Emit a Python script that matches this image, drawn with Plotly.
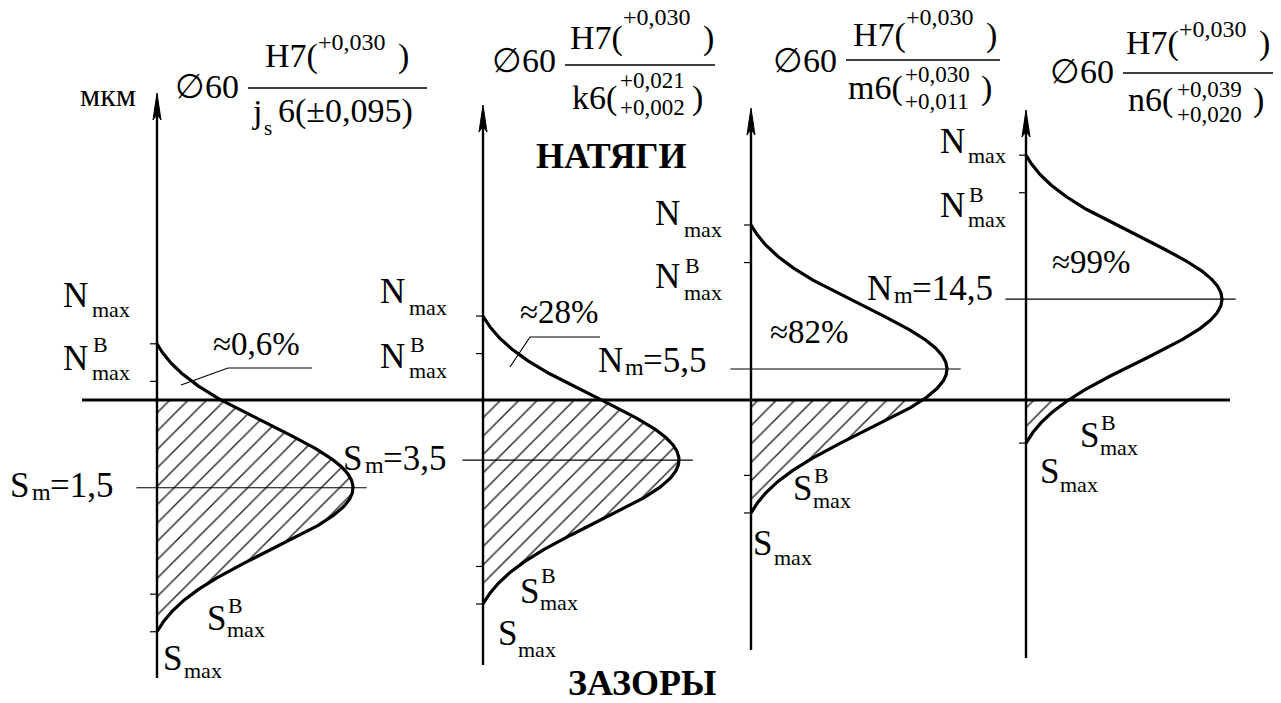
import numpy as np
import plotly.graph_objects as go

W, H = 1281, 703
SERIF = "Liberation Serif, Times New Roman, DejaVu Serif, serif"

# ---------------- data ----------------
hole_field = "H7"
hole_dev = "+0,030"
shaft_letter = ["j", "k", "m", "n"]
shaft_dev_upper = ["±0,095", "+0,021", "+0,030", "+0,039"]
shaft_dev_lower = ["", "+0,002", "+0,011", "+0,020"]
mean_value = [-1.5, -3.5, 5.5, 14.5]       # µm, >0 натяг, <0 зазор
sigma_value = [1.07, 3.65, 11.1, 9.0]      # µm, spread of each sketched distribution
interference_pct = ["0,6", "28", "82", "99"]

CURVE_LIMIT = 2.3   # distribution drawn over mean ± 2.3σ (N_max … S_max)
PROB_LIMIT = 1.7    # probable limits N^B_max, S^B_max

# ---------------- drawing geometry (pixels) ----------------
ZERO_PX = 400          # height of the zero (N=S=0) line from the top
SIGMA_PX = 62.6        # drawn size of one σ
PEAK_PX = 196          # drawn height of the density peak
AXIS_PX = [157, 483, 751, 1026]
AXIS_TOP = [93, 105, 108, 110]
AXIS_BOT = [678, 665, 650, 658]

fig = go.Figure()
gL = np.exp(-CURVE_LIMIT ** 2 / 2)


def density(t):
    return (np.exp(-t ** 2 / 2) - gL) / (1 - gL)


for i, (m, s) in enumerate(zip(mean_value, sigma_value)):
    xa = "x" if i == 0 else f"x{i+1}"
    ya = "y" if i == 0 else f"y{i+1}"
    t = np.linspace(-CURVE_LIMIT, CURVE_LIMIT, 400)
    yv = m + t * s
    xv = density(t)

    # clearance part (below the zero line) is hatched
    t0 = -m / s
    tt = np.sort(np.concatenate([t[t < t0], [t0]]))[::-1]
    hx = np.concatenate([[0.0], density(tt), [0.0]])
    hy = np.concatenate([[0.0], m + tt * s, [m - CURVE_LIMIT * s]])
    fig.add_trace(go.Scatter(
        x=hx, y=hy, xaxis=xa, yaxis=ya, mode="none", fill="toself",
        fillcolor="rgba(255,255,255,0)",
        fillpattern=dict(shape="/", size=13, solidity=0.11, fgcolor="#1a1a1a",
                         fgopacity=0.95),
        hoverinfo="skip", showlegend=False))

    # mean line
    fig.add_trace(go.Scatter(
        x=[-0.105, 1.07], y=[m, m], xaxis=xa, yaxis=ya, mode="lines",
        line=dict(color="black", width=1.2), hoverinfo="skip", showlegend=False))

    # distribution curve
    fig.add_trace(go.Scatter(
        x=xv, y=yv, xaxis=xa, yaxis=ya, mode="lines",
        line=dict(color="black", width=3.2), hoverinfo="skip", showlegend=False))

    # ticks at N_max, N^B_max, S^B_max, S_max
    tk = 7 / PEAK_PX
    for v in [m + CURVE_LIMIT * s, m + PROB_LIMIT * s,
              m - PROB_LIMIT * s, m - CURVE_LIMIT * s]:
        if abs(v) / s * SIGMA_PX < 10:
            continue
        fig.add_trace(go.Scatter(
            x=[-tk, 0], y=[v, v], xaxis=xa, yaxis=ya, mode="lines",
            line=dict(color="black", width=1.2), hoverinfo="skip",
            showlegend=False))

# axes: one coordinate system per diagram
layout_axes = {}
for i, s in enumerate(sigma_value):
    sfx = "" if i == 0 else str(i + 1)
    x0 = AXIS_PX[i]
    upx = s / SIGMA_PX
    xa = dict(range=[-x0 / PEAK_PX, (W - x0) / PEAK_PX], domain=[0, 1],
              visible=False, fixedrange=True)
    ya = dict(range=[-(H - ZERO_PX) * upx, ZERO_PX * upx], domain=[0, 1],
              visible=False, fixedrange=True)
    if i > 0:
        xa["overlaying"] = "x"
        ya["overlaying"] = "y"
        xa["anchor"] = "y" + sfx
        ya["anchor"] = "x" + sfx
    layout_axes["xaxis" + sfx] = xa
    layout_axes["yaxis" + sfx] = ya


def P(x, y):
    return x / W, 1 - y / H


shapes = []
# zero line
shapes.append(dict(type="line", xref="paper", yref="y", x0=82 / W, x1=1230 / W,
                   y0=0, y1=0, line=dict(color="black", width=3)))
# vertical axes with arrows
for x, ytop, ybot in zip(AXIS_PX, AXIS_TOP, AXIS_BOT):
    a, b = P(x, ybot)
    c, d = P(x, ytop + 12)
    shapes.append(dict(type="line", xref="paper", yref="paper", x0=a, y0=b,
                       x1=c, y1=d, line=dict(color="black", width=2.4)))
    pts = [(x, ytop), (x - 4, ytop + 27), (x, ytop + 21), (x + 4, ytop + 27)]
    path = "M " + " L ".join(f"{px / W:.5f},{1 - py / H:.5f}" for px, py in pts) + " Z"
    shapes.append(dict(type="path", xref="paper", yref="paper", path=path,
                       fillcolor="black", line=dict(color="black", width=1)))

# fraction bars
for x0, x1, y in [(248, 427, 88), (565, 715, 65), (846, 1000, 60), (1123, 1273, 73)]:
    a, b = P(x0, y)
    c, d = P(x1, y)
    shapes.append(dict(type="line", xref="paper", yref="paper", x0=a, y0=b,
                       x1=c, y1=d, line=dict(color="black", width=1.6)))

# leaders for the percentage labels
for pts in [[(181, 385), (228, 368), (312, 368)], [(510, 367), (530, 337), (600, 337)]]:
    path = "M " + " L ".join(f"{px / W:.5f},{1 - py / H:.5f}" for px, py in pts)
    shapes.append(dict(type="path", xref="paper", yref="paper", path=path,
                       line=dict(color="black", width=1.2)))

ann = []


def text(x, base, s, size, bold=False, anchor="left"):
    yc = base - 0.34 * size
    if bold:
        s = f"<b>{s}</b>"
    ann.append(dict(x=x / W, y=1 - yc / H, xref="paper", yref="paper", text=s,
                    showarrow=False, xanchor=anchor, yanchor="middle",
                    borderpad=0, borderwidth=0,
                    font=dict(family=SERIF, size=size, color="black")))


BIG, SMALL, TITLE, SUP, STACK = 35, 22, 34, 24, 23

# unit
text(80, 106, "мкм", 32)

# titles  Ø60 H7 / shaft
dia_pos = [(175, 98), (492, 72), (773, 72), (1050, 83)]
num_pos = [(265, 68, 50), (570, 50, 25), (853, 47, 25), (1126, 55, 37)]
for i in range(4):
    text(dia_pos[i][0], dia_pos[i][1], "∅60", TITLE)
    hx, hb, sb = num_pos[i]
    text(hx, hb, hole_field + "(", TITLE)
    text(hx + 53, sb, hole_dev, SUP)
    text(hx + 133, hb, ")", TITLE)

# denominators
text(252, 123, shaft_letter[0], TITLE)
text(264, 135, "s", 21)
text(278, 123, "6(" + shaft_dev_upper[0] + ")", TITLE)
den_pos = [None, (572, 110, 620, 88, 115, 692), (848, 100, 905, 82, 109, 981),
           (1128, 112, 1177, 97, 122, 1253)]
for i in range(1, 4):
    lx, lb, sx, ub, db, rx = den_pos[i]
    text(lx, lb, shaft_letter[i] + "6(", TITLE)
    text(sx, ub, shaft_dev_upper[i], STACK)
    text(sx, db, shaft_dev_lower[i], STACK)
    text(rx, lb, ")", TITLE)

# region names
text(611, 168, "НАТЯГИ", 36, bold=True, anchor="center")
ann.append(dict(x=642 / W, y=0, xref="paper", yref="paper", text="<b>ЗАЗОРЫ</b>",
                showarrow=False, xanchor="center", yanchor="bottom",
                borderpad=0, borderwidth=0,
                font=dict(family=SERIF, size=36, color="black")))


# limit labels
def lab(x, base, letter, sub_base, sup_base=None, sub_x=None):
    text(x, base, letter, BIG)
    sx = sub_x if sub_x is not None else x + 28
    text(sx, sub_base, "max", SMALL)
    if sup_base is not None:
        text(sx + 1, sup_base, "B", SMALL)


# panel 1
lab(63, 307, "N", 317, sub_x=92)
lab(63, 370, "N", 380, 352, sub_x=92)
lab(207, 630, "S", 637, 613, sub_x=227)
lab(163, 670, "S", 678, sub_x=184)
# panel 2
lab(380, 303, "N", 315, sub_x=409)
lab(380, 368, "N", 378, 352, sub_x=409)
lab(520, 603, "S", 610, 583, sub_x=540)
lab(498, 645, "S", 657, sub_x=518)
# panel 3
lab(655, 225, "N", 237, sub_x=684)
lab(655, 288, "N", 300, 273, sub_x=684)
lab(793, 500, "S", 508, 483, sub_x=813)
lab(753, 555, "S", 565, sub_x=774)
# panel 4
lab(940, 153, "N", 163, sub_x=968)
lab(940, 217, "N", 227, 202, sub_x=968)
lab(1080, 447, "S", 455, 430, sub_x=1100)
lab(1040, 483, "S", 492, sub_x=1060)

# mean labels
mean_pos = [(10, 497), (343, 470), (598, 372), (867, 300)]
for (x, b), m in zip(mean_pos, mean_value):
    sym = "N" if m > 0 else "S"
    val = f"{abs(m):.1f}".replace(".", ",")
    text(x, b, sym, BIG)
    text(x + (27 if sym == "N" else 22), b + 3, "m", 24)
    text(x + (45 if sym == "N" else 40), b, "=" + val, BIG)

# percentage labels
pct_pos = [(213, 355), (520, 323), (770, 343), (1052, 273)]
for (x, b), p in zip(pct_pos, interference_pct):
    text(x, b, "≈" + p + "%", 33)

fig.update_layout(
    width=W, height=H, margin=dict(l=0, r=0, t=0, b=0),
    paper_bgcolor="white", plot_bgcolor="rgba(0,0,0,0)",
    showlegend=False, shapes=shapes, annotations=ann, **layout_axes)

fig.write_html("out.html")
